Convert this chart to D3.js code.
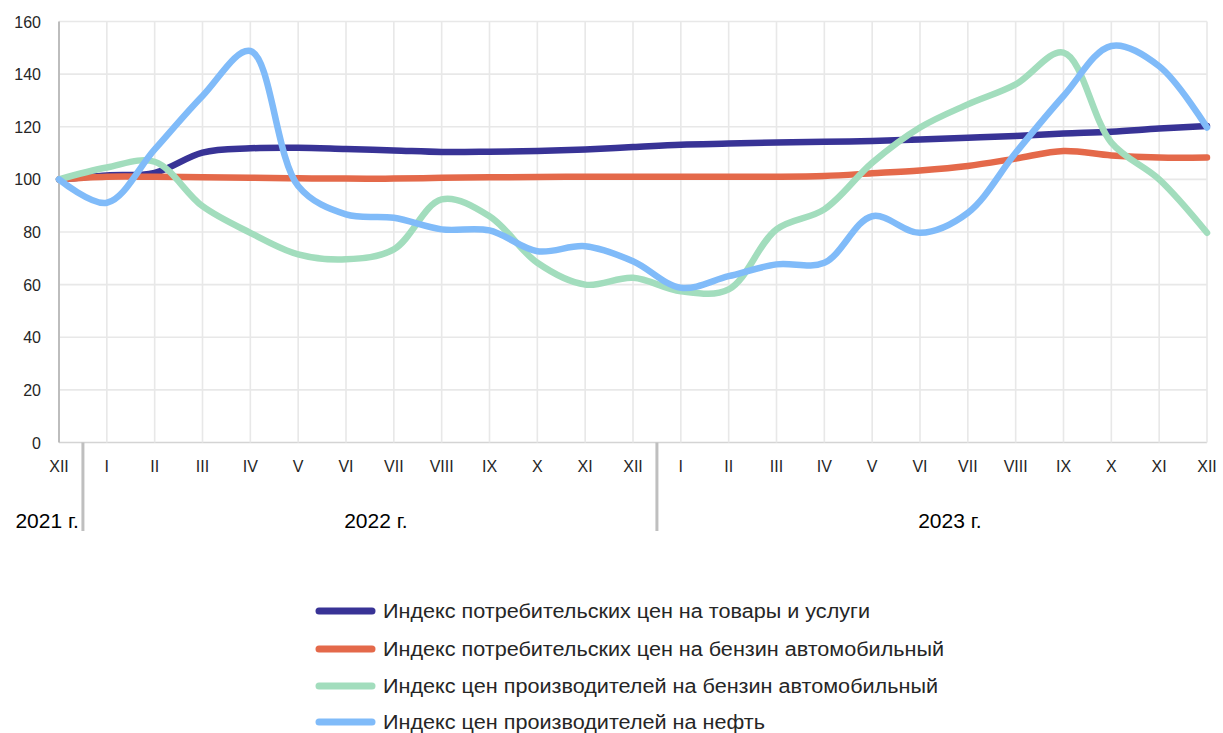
<!DOCTYPE html>
<html>
<head>
<meta charset="utf-8">
<script src="https://cdn.jsdelivr.net/npm/d3@7"></script>
<style>
  body { margin: 0; background: #fff; }
  svg { display: block; font-family: "Liberation Sans", Arial, sans-serif; }
</style>
</head>
<body>
<div id="main"></div>
<script>
// месяцы XII 2021 .. XII 2023
var months = ["XII","I","II","III","IV","V","VI","VII","VIII","IX","X","XI","XII",
              "I","II","III","IV","V","VI","VII","VIII","IX","X","XI","XII"];
var years = [{label:"2021 г.", from:0, to:0}, {label:"2022 г.", from:1, to:12}, {label:"2023 г.", from:13, to:24}];
var yTicks = [0,20,40,60,80,100,120,140,160];

var cpiAll    = [100,101.5,102.5,110.2,111.8,112,111.5,111,110.4,110.5,110.8,111.4,112.3,
                 113.2,113.6,114,114.3,114.6,115.2,115.8,116.5,117.4,118.1,119.3,120.3];
var cpiPetrol = [100,101,101,100.8,100.6,100.4,100.3,100.3,100.6,100.8,100.9,101,101,
                 101,101,101,101.3,102.3,103.4,105.1,107.9,110.8,109.1,108.3,108.3];
var ppiPetrol = [100,104.5,106.7,89.8,79.7,71.5,69.6,73.4,92.4,86,68.3,60,62.6,
                 57.5,58.2,81,88.6,106.3,119.7,128.5,136.1,148.2,114,100,79.7];
var ppiOil    = [100,91.1,111.4,131.7,148.8,97.5,86.7,85.4,81,80.6,72.7,74.6,68.9,
                 58.8,63.2,67.7,68.3,86,79.7,87.3,110.1,131.7,150.7,143,119.7];

var seriesNames = ["Индекс потребительских цен на товары и услуги",
                   "Индекс потребительских цен на бензин автомобильный",
                   "Индекс цен производителей на бензин автомобильный",
                   "Индекс цен производителей на нефть"];
var colors = ["#383396","#E4694A","#A2DDBD","#80BBF9"];
var series = [cpiAll, cpiPetrol, ppiPetrol, ppiOil];

var width = 1223, height = 733;
var svg = d3.select("#main").append("svg")
    .attr("width", width).attr("height", height);

var x = d3.scaleLinear().domain([0, months.length - 1]).range([59, 1207]);
var y = d3.scaleLinear().domain([0, 160]).range([442.5, 21.5]);

// сетка
svg.append("g").selectAll("line.h").data(yTicks).enter().append("line")
    .attr("x1", x(0)).attr("x2", x(24))
    .attr("y1", function(d){ return y(d); }).attr("y2", function(d){ return y(d); })
    .attr("stroke", function(d){ return d === 0 ? "#D4D4D4" : "#E8E8E8"; })
    .attr("stroke-width", 1.6);
svg.append("g").selectAll("line.v").data(d3.range(1, months.length)).enter().append("line")
    .attr("x1", function(d){ return x(d); }).attr("x2", function(d){ return x(d); })
    .attr("y1", y(160)).attr("y2", y(0))
    .attr("stroke", "#E8E8E8").attr("stroke-width", 1.6);
svg.append("line").attr("x1", x(0)).attr("x2", x(0)).attr("y1", y(160)).attr("y2", y(0))
    .attr("stroke", "#BDBDBD").attr("stroke-width", 2);

// подписи оси Y
svg.append("g").selectAll("text").data(yTicks).enter().append("text")
    .attr("x", 41).attr("y", function(d){ return y(d) + 6; })
    .attr("text-anchor", "end").attr("font-size", 16).attr("fill", "#262626")
    .text(function(d){ return d; });

// подписи месяцев
svg.append("g").selectAll("text").data(months).enter().append("text")
    .attr("x", function(d, i){ return x(i); }).attr("y", 472)
    .attr("text-anchor", "middle").attr("font-size", 16).attr("fill", "#262626")
    .text(function(d){ return d; });

// разделители лет
[0.5, 12.5].forEach(function(p){
  svg.append("line").attr("x1", x(p)).attr("x2", x(p)).attr("y1", y(0)).attr("y2", 531)
     .attr("stroke", "#BFBFBF").attr("stroke-width", 3);
});
svg.append("g").selectAll("text").data(years).enter().append("text")
    .attr("x", function(d){ return d.from === 0 ? x(0.5) - 4 : (x(d.from - 0.5) + x(d.to + 0.5)) / 2 + 6; })
    .attr("y", 528)
    .attr("text-anchor", function(d){ return d.from === 0 ? "end" : "middle"; })
    .attr("font-size", 21).attr("fill", "#000")
    .text(function(d){ return d.label; });

// линии
var line = d3.line()
    .x(function(d, i){ return x(i); })
    .y(function(d){ return y(d); })
    .curve(d3.curveCatmullRom.alpha(0.5));
series.forEach(function(s, k){
  svg.append("path").attr("d", line(s))
     .attr("fill", "none").attr("stroke", colors[k])
     .attr("stroke-width", 6.5).attr("stroke-linecap", "round").attr("stroke-linejoin", "round");
});

// легенда
var legendY = [611, 649, 686, 722];
var legendW = [487, 561, 555, 382];
var lg = svg.append("g").selectAll("g").data(seriesNames).enter().append("g")
    .attr("transform", function(d, i){ return "translate(0," + legendY[i] + ")"; });
lg.append("line").attr("x1", 319).attr("x2", 372).attr("y1", 0).attr("y2", 0)
    .attr("stroke", function(d, i){ return colors[i]; })
    .attr("stroke-width", 7).attr("stroke-linecap", "round");
lg.append("text").attr("x", 383).attr("y", 6.5)
    .attr("font-size", 20).attr("fill", "#262626")
    .attr("textLength", function(d, i){ return legendW[i]; })
    .attr("lengthAdjust", "spacingAndGlyphs")
    .text(function(d){ return d; });
</script>
</body>
</html>
